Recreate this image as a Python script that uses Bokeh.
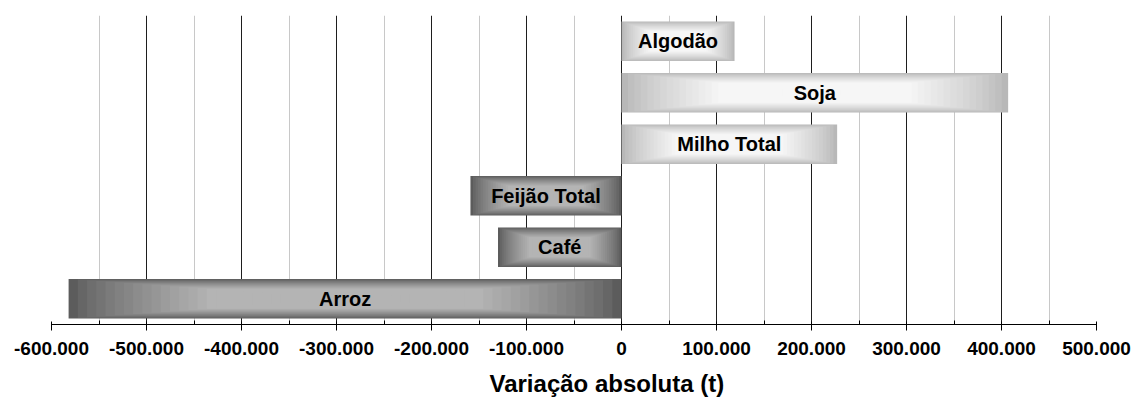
import numpy as np
from bokeh.plotting import figure
from bokeh.models import Range1d, FixedTicker, ColumnDataSource, Title
from bokeh.core.properties import value
from bokeh.embed import file_html
from bokeh.resources import INLINE

# ---- data (bottom to top) ----
categories = ["Arroz", "Café", "Feijão Total", "Milho Total", "Soja", "Algodão"]
variation = [-582000, -130000, -159000, 227000, 407000, 119000]
ticks = [-600000, -500000, -400000, -300000, -200000, -100000, 0,
         100000, 200000, 300000, 400000, 500000]
tick_labels = ["-600.000", "-500.000", "-400.000", "-300.000", "-200.000",
               "-100.000", "0", "100.000", "200.000", "300.000", "400.000", "500.000"]
axis_title = "Variação absoluta (t)"

# ---- styling ----
BAR_H = 0.77
N_LAYERS = 30
T_FULL = 0.5
NEG_EDGE, NEG_CENTER = (0x5c, 0x5c, 0x5c), (0xb4, 0xb4, 0xb4)
POS_EDGE, POS_CENTER = (0xb8, 0xb8, 0xb8), (0xf6, 0xf6, 0xf6)
FONT = "Liberation Sans"

def mix(c0, c1, f):
    return "#%02x%02x%02x" % tuple(int(round(a + (b - a) * f)) for a, b in zip(c0, c1))

p = figure(width=1131, height=411,
           x_range=Range1d(ticks[0], ticks[-1]), y_range=Range1d(-0.5, len(categories) - 0.5),
           output_backend="svg", toolbar_location=None,
           min_border_left=51, min_border_right=35, min_border_top=15, min_border_bottom=87)
p.outline_line_color = None
p.background_fill_color = "white"
p.border_fill_color = "white"

# gradient bars built from concentric layers
ys, lefts, rights, heights, colors = [], [], [], [], []
for i, v in enumerate(variation):
    x0, x1 = min(0, v), max(0, v)
    cx = (x0 + x1) / 2.0
    w = x1 - x0
    edge, center = (NEG_EDGE, NEG_CENTER) if v < 0 else (POS_EDGE, POS_CENTER)
    for k in range(N_LAYERS):
        t = k / N_LAYERS
        f = min(1.0, t / T_FULL) ** 0.8
        s = 1 - t
        ys.append(i)
        lefts.append(cx - w * s / 2)
        rights.append(cx + w * s / 2)
        heights.append(BAR_H * s)
        colors.append(mix(edge, center, f))

src = ColumnDataSource(dict(y=ys, left=lefts, right=rights, height=heights, color=colors))
p.hbar(y="y", left="left", right="right", height="height", source=src,
       fill_color="color", line_color=None)

lab = ColumnDataSource(dict(x=[v / 2.0 for v in variation], y=list(range(len(categories))),
                            text=categories))
p.text(x="x", y="y", text="text", source=lab, text_align="center", text_baseline="middle",
       text_font=value(FONT), text_font_style="bold", text_font_size="20px", text_color="black")

# axes / grid
minor = [(a + b) / 2 for a, b in zip(ticks[:-1], ticks[1:])]
ticker = FixedTicker(ticks=ticks, minor_ticks=minor)
p.xaxis.ticker = ticker
p.xaxis.major_label_overrides = {t: l for t, l in zip(ticks, tick_labels)}
p.xaxis.major_label_text_font = FONT
p.xaxis.major_label_text_font_style = "bold"
p.xaxis.major_label_text_font_size = "19px"
p.xaxis.major_label_text_color = "black"
p.xaxis.major_label_standoff = 11
p.xaxis.axis_line_color = "black"
p.xaxis.major_tick_line_color = "black"
p.xaxis.minor_tick_line_color = "black"
p.xaxis.major_tick_in = 3
p.xaxis.major_tick_out = 6
p.xaxis.minor_tick_in = 4
p.xaxis.minor_tick_out = 0

title = Title(text=axis_title, align="left", offset=438, standoff=20,
              text_font=FONT, text_font_style="bold", text_font_size="24px",
              text_color="black")
p.add_layout(title, "below")

p.xgrid.ticker = ticker
p.xgrid.grid_line_color = "#1e1e1e"
p.xgrid.grid_line_width = 1
p.xgrid.minor_grid_line_color = "#c8c8c8"
p.ygrid.visible = False
p.yaxis.visible = False

open("out.html", "w").write(file_html(p, INLINE))
